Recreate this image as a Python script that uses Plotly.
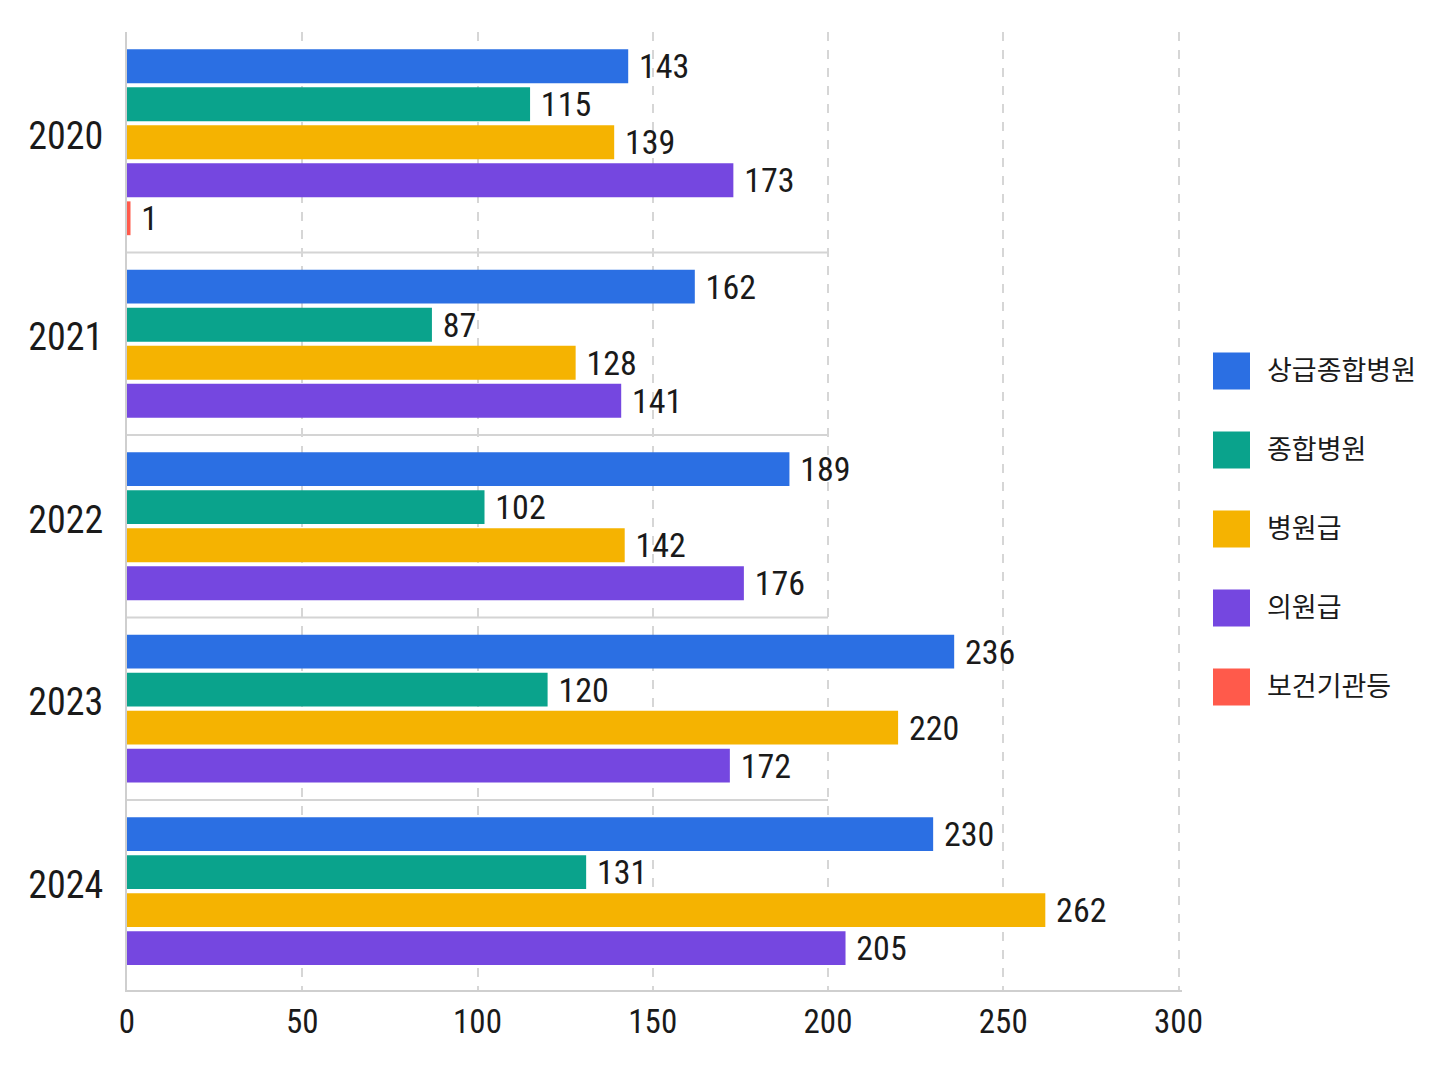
import plotly.graph_objects as go

years = ["2020", "2021", "2022", "2023", "2024"]
categories = ["상급종합병원", "종합병원", "병원급", "의원급", "보건기관등"]
tertiary = [143, 162, 189, 236, 230]
general = [115, 87, 102, 120, 131]
hospital = [139, 128, 142, 220, 262]
clinic = [173, 141, 176, 172, 205]
public_health = [1, None, None, None, None]
x_ticks = [0, 50, 100, 150, 200, 250, 300]

series = [tertiary, general, hospital, clinic, public_health]
colors = ["#2b6fe3", "#0aa38c", "#f5b301", "#7547e0", "#ff5a4b"]

FONT = "Roboto Condensed, Liberation Sans Narrow, DejaVu Sans Condensed, Noto Sans CJK KR, sans-serif"
# page body has an 8px margin, so the figure is a bit smaller than the window
W, H = 1432, 1070
ML, MR, MT, MB = 119, 258, 24, 88

# y positions: one row per existing bar, with a wider gap between years
positions = [[] for _ in series]
centers, bounds = [], []
pos = 0.0
for i, _ in enumerate(years):
    rows = []
    for s, vals in enumerate(series):
        if vals[i] is not None:
            positions[s].append((pos, vals[i]))
            rows.append(pos)
            pos += 1
    centers.append(sum(rows) / len(rows) - 0.18)
    if i < len(years) - 1:
        bounds.append(pos - 1 + 0.9)
    pos += 0.8

fig = go.Figure()
for s, name in enumerate(categories):
    ys = [p for p, v in positions[s]]
    xs = [v for p, v in positions[s]]
    fig.add_trace(go.Bar(
        x=xs, y=ys, orientation="h", name=name, width=0.89,
        marker=dict(color=colors[s], line=dict(width=0)),
        text=xs, texttemplate=" %{x}", textposition="outside",
        constraintext="none",
        textfont=dict(size=34, color="#1a1a1a", family=FONT),
        cliponaxis=False, showlegend=False,
    ))

# thin separators between year groups
for b in bounds:
    fig.add_shape(type="line", xref="x", yref="y", x0=0, x1=200, y0=b, y1=b,
                  line=dict(color="#d4d4d4", width=2), layer="below")

# hand-built legend with large swatches
pw = W - ML - MR
ph = H - MT - MB


def px_x(v):
    return (v - 8 - ML) / pw


def px_y(v):
    return (H - MB - (v - 8)) / ph


for k, name in enumerate(categories):
    cy = 371 + k * 79
    fig.add_shape(type="rect", xref="paper", yref="paper",
                  x0=px_x(1213), x1=px_x(1250), y0=px_y(cy + 18.5), y1=px_y(cy - 18.5),
                  fillcolor=colors[k], line=dict(width=0))
    fig.add_annotation(xref="paper", yref="paper", x=px_x(1265), y=px_y(cy),
                       text=name, showarrow=False, xanchor="left", yanchor="middle",
                       font=dict(size=27, color="#1a1a1a", family=FONT))

fig.update_layout(
    width=W, height=H,
    margin=dict(l=ML, r=MR, t=MT, b=MB),
    paper_bgcolor="white", plot_bgcolor="white",
    barmode="overlay",
    font=dict(family=FONT, color="#1a1a1a"),
    xaxis=dict(
        range=[0, 301], tickvals=x_ticks, ticks="", ticklabelstandoff=1,
        tickfont=dict(size=33),
        showgrid=True, gridcolor="#d6d6d6", griddash="dash", gridwidth=1.5,
        showline=True, linecolor="#cfcfcf", linewidth=2, zeroline=False,
    ),
    yaxis=dict(
        range=[24.3, -0.9], tickvals=centers, ticktext=years, ticks="",
        ticklabelstandoff=14, tickfont=dict(size=38),
        showgrid=False, zeroline=False,
        showline=True, linecolor="#cfcfcf", linewidth=2,
    ),
)

fig.write_html("out.html")
